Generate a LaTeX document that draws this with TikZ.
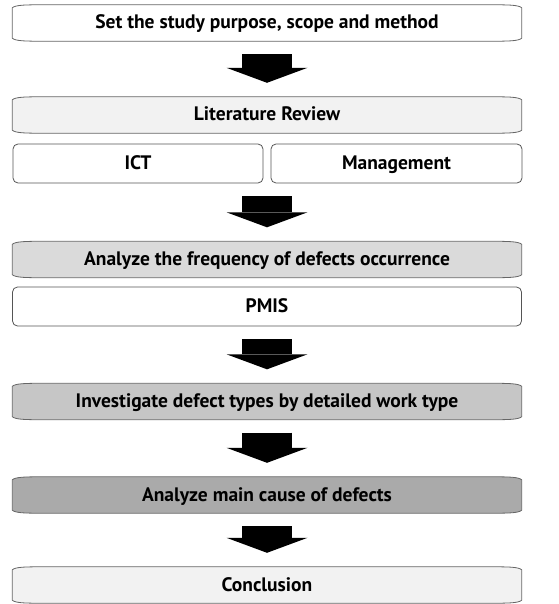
\documentclass[tikz,border=0pt]{standalone}
\usepackage{fontspec}
\setmainfont{PT Sans}
\usetikzlibrary{arrows.meta,backgrounds}

\definecolor{edgegray}{HTML}{666666}
\definecolor{subedge}{HTML}{555555}
\definecolor{litgray}{HTML}{F2F2F2}
\definecolor{freqgray}{HTML}{DADADA}
\definecolor{typegray}{HTML}{C6C6C6}
\definecolor{causegray}{HTML}{AAAAAA}

\begin{document}
\begin{tikzpicture}[x=1pt,y=-1pt,
  every node/.style={font=\fontsize{19.5}{22}\selectfont\bfseries,inner sep=0pt,
    text height=15pt,text depth=3pt},
  stage/.style={minimum width=509pt,minimum height=36pt},
  sub/.style={draw=subedge,line width=0.8pt,rounded corners=5pt,fill=white,minimum height=39pt},
  bigarrow/.style={line width=50pt,-{Triangle[width=81pt,length=15pt,line width=0pt]},
    shorten <=13pt,shorten >=14pt}]
\useasboundingbox (0,0) rectangle (558,604);

% stages
\node[stage] (aim)   at (267,23)  {Set the study purpose, scope and method};
\node[stage] (lit)   at (267,115) {Literature Review};
\node[sub,minimum width=250pt] (ict)  at (138,163.5) {ICT};
\node[sub,minimum width=251pt] (mgmt) at (396.5,163.5) {Management};
\node[stage] (freq)  at (267,259.5) {Analyze the frequency of defects occurrence};
\node[sub,minimum width=509pt] (pmis) at (267,306.5) {PMIS};
\node[stage] (type)  at (267,401.5) {Investigate defect types by detailed work type};
\node[stage] (cause) at (267,495)   {Analyze main cause of defects};
\node[stage] (end)   at (267,585)   {Conclusion};

% tab shaped outlines
\begin{scope}[on background layer]
\foreach \n/\c in {aim/white,lit/litgray,freq/freqgray,type/typegray,cause/causegray,end/litgray}
  \filldraw[fill=\c,draw=edgegray,line width=0.8pt]
    ([yshift=-3pt]\n.north west) .. controls ([xshift=3pt]\n.north west) and ([xshift=15pt]\n.north west) .. ([xshift=30pt]\n.north west)
    -- ([xshift=-30pt]\n.north east) .. controls ([xshift=-15pt]\n.north east) and ([xshift=-3pt]\n.north east) .. ([yshift=-3pt]\n.north east)
    -- ([yshift=3pt]\n.south east) .. controls ([xshift=-3pt]\n.south east) and ([xshift=-15pt]\n.south east) .. ([xshift=-30pt]\n.south east)
    -- ([xshift=30pt]\n.south west) .. controls ([xshift=15pt]\n.south west) and ([xshift=3pt]\n.south west) .. ([yshift=3pt]\n.south west)
    -- cycle;
\end{scope}

% arrows
\draw[bigarrow] (aim) -- (lit);
\draw[bigarrow] (lit.south |- ict.south) -- (freq);
\draw[bigarrow] (pmis) -- (type);
\draw[bigarrow] (type) -- (cause);
\draw[bigarrow] (cause) -- (end);

\end{tikzpicture}
\end{document}
